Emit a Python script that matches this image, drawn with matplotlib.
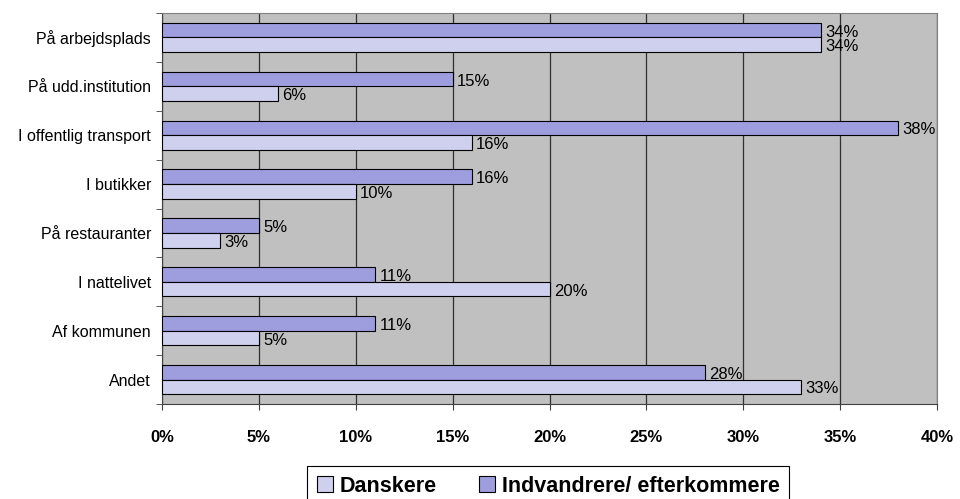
import numpy as np
from matplotlib import pyplot as plt
from matplotlib.ticker import FixedLocator, PercentFormatter

categories = ["På arbejdsplads", "På udd.institution", "I offentlig transport",
              "I butikker", "På restauranter", "I nattelivet", "Af kommunen", "Andet"]
danskere = [34, 6, 16, 10, 3, 20, 5, 33]
indvandrere = [34, 15, 38, 16, 5, 11, 11, 28]
xticks = [0, 5, 10, 15, 20, 25, 30, 35, 40]

plt.rcParams['font.family'] = ['Liberation Sans', 'DejaVu Sans']

fig = plt.figure(figsize=(9.6, 4.99), dpi=100)
ax = fig.add_axes([162 / 960, 1 - 404 / 499, (937 - 162) / 960, (404 - 13) / 499])
ax.set_facecolor('#C0C0C0')

y = np.arange(len(categories))
h = 0.3
c_dan = '#CFCFEE'
c_ind = '#9E9EDE'

b_ind = ax.barh(y - h / 2, indvandrere, height=h, color=c_ind, edgecolor='black',
                linewidth=0.8, label='Indvandrere/ efterkommere', zorder=3)
b_dan = ax.barh(y + h / 2, danskere, height=h, color=c_dan, edgecolor='black',
                linewidth=0.8, label='Danskere', zorder=3)

for bars, vals in ((b_ind, indvandrere), (b_dan, danskere)):
    for bar, v in zip(bars, vals):
        ax.annotate(f"{v}%", (v, bar.get_y() + bar.get_height() / 2),
                    xytext=(3, -1.5), textcoords='offset points',
                    va='center', ha='left', fontsize=12, zorder=4)

ax.set_xlim(0, 40)
ax.set_ylim(len(categories) - 0.5, -0.5)
ax.set_xticks(xticks)
ax.xaxis.set_major_formatter(PercentFormatter(decimals=0))
for t in ax.get_xticklabels():
    t.set_fontweight('bold')
ax.tick_params(axis='x', length=4.5, pad=14, labelsize=12, color='#404040')
ax.xaxis.grid(True, color='#303030', linewidth=0.9, zorder=1)

ax.set_yticks(y)
ax.set_yticklabels(categories, fontsize=11.5)
ax.tick_params(axis='y', which='major', length=0, pad=8)
ax.yaxis.set_minor_locator(FixedLocator(np.arange(-0.5, len(categories), 1)))
ax.tick_params(axis='y', which='minor', length=4.5, color='#404040')

for s in ('top', 'right'):
    ax.spines[s].set_color('#808080')
for s in ('left', 'bottom'):
    ax.spines[s].set_color('#404040')

handles = [b_dan, b_ind]
labels = ['Danskere', 'Indvandrere/ efterkommere']
leg = fig.legend(handles, labels, loc='upper center', bbox_to_anchor=(0.571, 0.066),
                 ncol=2, fancybox=False, framealpha=1, edgecolor='black',
                 prop={'weight': 'bold', 'size': 15.5}, handlelength=0.75,
                 handleheight=0.75, handletextpad=0.3, columnspacing=2.0,
                 borderpad=0.45, borderaxespad=0)
leg.get_frame().set_linewidth(0.8)

fig.savefig('out.png', dpi=100)
